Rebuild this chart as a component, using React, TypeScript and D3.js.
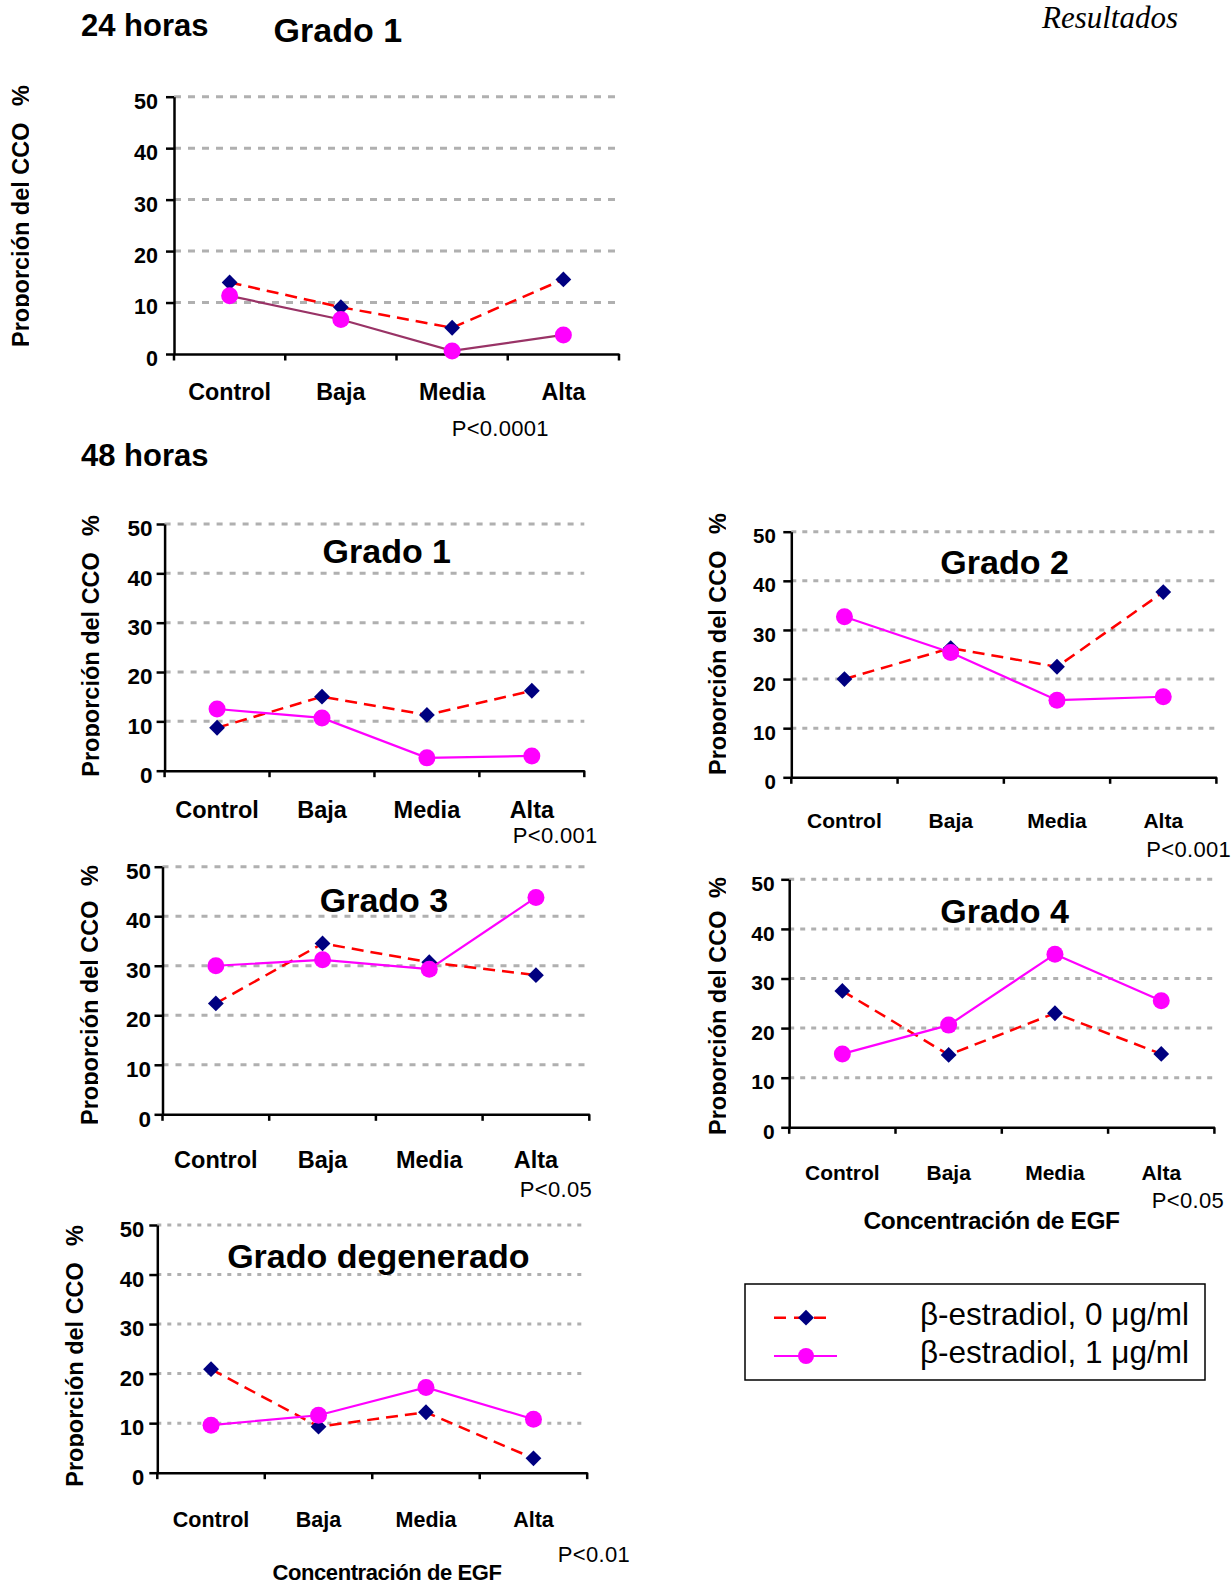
import { useRef, useEffect } from "react";
import * as d3 from "d3";

// categorias de EGF y escala del eje Y
const categories = ["Control", "Baja", "Media", "Alta"];
const yTicks = [0, 10, 20, 30, 40, 50];
const gridTicks = [10, 20, 30, 40, 50];

// serie 0 = β-estradiol 0 µg/ml, serie 1 = β-estradiol 1 µg/ml
const g1_24h_e0 = [13.9, 9.1, 5.1, 14.5];
const g1_24h_e1 = [11.3, 6.7, 0.6, 3.7];
const g1_48h_e0 = [8.7, 15.0, 11.3, 16.2];
const g1_48h_e1 = [12.5, 10.7, 2.6, 3.0];
const g2_48h_e0 = [20.0, 26.3, 22.5, 37.7];
const g2_48h_e1 = [32.7, 25.4, 15.7, 16.4];
const g3_48h_e0 = [22.4, 34.5, 30.7, 28.1];
const g3_48h_e1 = [30.0, 31.2, 29.3, 43.8];
const g4_48h_e0 = [27.5, 14.6, 23.0, 14.8];
const g4_48h_e1 = [14.8, 20.6, 34.9, 25.5];
const gdeg_48h_e0 = [20.9, 9.3, 12.2, 2.9];
const gdeg_48h_e1 = [9.6, 11.6, 17.2, 10.8];

const legendLabels = ["β-estradiol, 0 μg/ml", "β-estradiol, 1 μg/ml"];

const SANS = "'Liberation Sans', Arial, Helvetica, sans-serif";
const SERIF = "'Liberation Serif', 'Times New Roman', serif";

const panels = [
    { id: "a", title: null, s0: g1_24h_e0, s1: g1_24h_e1, p: "P<0.0001", pX: 451.7, pY: 436, pAnchor: "start",
      x0: 174, x1: 619, yTop: 96.7, yBot: 354, tickFs: 21.5, tickPad: 8, catFs: 23.3, catDy: 46, gridDash: "7,7",
      labX: 28.5, labBot: 347, labTop: 85, line1: "#993366" },
    { id: "b", title: "Grado 1", tX: 386.8, tY: 563, s0: g1_48h_e0, s1: g1_48h_e1, p: "P<0.001", pX: 597.5, pY: 843, pAnchor: "end",
      x0: 164.6, x1: 584.3, yTop: 524, yBot: 770.7, tickFs: 22.5, tickPad: 4, catFs: 23.5, catDy: 47, gridDash: "6,7",
      labX: 99.3, labBot: 776.7, labTop: 515, line1: "#ff00ff" },
    { id: "c", title: "Grado 2", tX: 1004.6, tY: 574, s0: g2_48h_e0, s1: g2_48h_e1, p: "P<0.001", pX: 1231, pY: 857, pAnchor: "end",
      x0: 791.3, x1: 1216.4, yTop: 531.7, yBot: 777.3, tickFs: 20.5, tickPad: 7.5, catFs: 21, catDy: 51, gridDash: "5,6",
      labX: 725.6, labBot: 775, labTop: 513, line1: "#ff00ff" },
    { id: "d", title: "Grado 3", tX: 384, tY: 911.7, s0: g3_48h_e0, s1: g3_48h_e1, p: "P<0.05", pX: 592, pY: 1196.7, pAnchor: "end",
      x0: 162.5, x1: 589.3, yTop: 866.7, yBot: 1114.3, tickFs: 22.5, tickPad: 3.5, catFs: 23.5, catDy: 54, gridDash: "6,7",
      labX: 97.5, labBot: 1125, labTop: 865, line1: "#ff00ff" },
    { id: "e", title: "Grado 4", tX: 1004.6, tY: 923.3, s0: g4_48h_e0, s1: g4_48h_e1, p: "P<0.05", pX: 1224, pY: 1208, pAnchor: "end",
      x0: 789.2, x1: 1214.4, yTop: 879.3, yBot: 1127.3, tickFs: 21, tickPad: 6.5, catFs: 21, catDy: 53, gridDash: "5,6",
      labX: 725.6, labBot: 1135, labTop: 877, line1: "#ff00ff", xTitle: { x: 991.6, y: 1229, fs: 24.5 } },
    { id: "f", title: "Grado degenerado", tX: 378.3, tY: 1268.3, s0: gdeg_48h_e0, s1: gdeg_48h_e1, p: "P<0.01", pX: 630, pY: 1561.7, pAnchor: "end",
      x0: 157.3, x1: 587.2, yTop: 1225, yBot: 1472.7, tickFs: 22, tickPad: 5, catFs: 21.5, catDy: 54, gridDash: "4,6",
      labX: 83.3, labBot: 1486.7, labTop: 1225, line1: "#ff00ff", xTitle: { x: 387, y: 1580, fs: 22 } },
];

const diamond = d3.symbol(d3.symbolSquare, 125);

export default function App() {
    const svgRef = useRef<SVGSVGElement>(null);

    useEffect(() => {
        const svg = d3.select(svgRef.current);
        svg.selectAll("*").remove();

        const defs = svg.append("defs");

        // titulos generales
        svg.append("text").attr("x", 81).attr("y", 36).text("24 horas")
            .attr("font-family", SANS).attr("font-weight", "bold").attr("font-size", 31);
        svg.append("text").attr("x", 273.6).attr("y", 42).text("Grado 1")
            .attr("font-family", SANS).attr("font-weight", "bold").attr("font-size", 34);
        svg.append("text").attr("x", 81).attr("y", 466).text("48 horas")
            .attr("font-family", SANS).attr("font-weight", "bold").attr("font-size", 31);
        svg.append("text").attr("x", 1042).attr("y", 28).text("Resultados")
            .attr("font-family", SERIF).attr("font-style", "italic").attr("font-size", 31);

        panels.forEach((pn: any) => drawPanel(svg, defs, pn));

        // leyenda
        const lg = svg.append("g");
        lg.append("rect").attr("x", 745).attr("y", 1284).attr("width", 460).attr("height", 96)
            .attr("fill", "none").attr("stroke", "#000").attr("stroke-width", 1.5);
        lg.append("line").attr("x1", 774).attr("x2", 832).attr("y1", 1317.7).attr("y2", 1317.7)
            .attr("stroke", "#ff0000").attr("stroke-width", 2.5).attr("stroke-dasharray", "12,8");
        lg.append("path").attr("d", diamond()).attr("transform", "translate(806,1317.7) rotate(45)").attr("fill", "#000080");
        lg.append("line").attr("x1", 774).attr("x2", 837).attr("y1", 1356).attr("y2", 1356)
            .attr("stroke", "#ff00ff").attr("stroke-width", 2.2);
        lg.append("circle").attr("cx", 806).attr("cy", 1356).attr("r", 8).attr("fill", "#ff00ff");
        lg.selectAll("text.lab").data(legendLabels).join("text")
            .attr("x", 1189).attr("y", (d, i) => 1325 + i * 38)
            .attr("text-anchor", "end").attr("font-family", SANS).attr("font-size", 31.5)
            .text(d => d);
    }, []);

    const drawPanel = (svg, defs, pn) => {
        const x = d3.scaleBand().domain(categories).range([pn.x0, pn.x1]);
        const y = d3.scaleLinear().domain([0, 50]).range([pn.yBot, pn.yTop]);
        const cx = (c) => x(c) + x.bandwidth() / 2;

        const g = svg.append("g").attr("class", "panel-" + pn.id);

        g.selectAll("line.grid").data(gridTicks).join("line")
            .attr("class", "grid")
            .attr("x1", pn.x0).attr("x2", pn.x1)
            .attr("y1", d => y(d)).attr("y2", d => y(d))
            .attr("stroke", "#b0b0b0").attr("stroke-width", 3)
            .attr("stroke-dasharray", pn.gridDash);

        // eje Y
        const yAxis = g.append("g").attr("transform", `translate(${pn.x0},0)`)
            .call(d3.axisLeft(y).tickValues(yTicks).tickSize(8).tickSizeOuter(0).tickPadding(pn.tickPad).tickFormat(d3.format("d")));
        yAxis.select(".domain").attr("stroke", "#000").attr("stroke-width", 2.5);
        yAxis.selectAll(".tick line").attr("stroke", "#000").attr("stroke-width", 2.5);
        yAxis.selectAll(".tick text").attr("y", 4.5)
            .attr("font-family", SANS).attr("font-weight", "bold").attr("font-size", pn.tickFs).attr("fill", "#000");

        // eje X
        const xAxis = g.append("g").attr("transform", `translate(0,${pn.yBot})`)
            .call(d3.axisBottom(x).tickSize(0).tickSizeOuter(0));
        xAxis.select(".domain").attr("stroke", "#000").attr("stroke-width", 2.5);
        xAxis.selectAll(".tick text").attr("y", pn.catDy).attr("dy", 0)
            .attr("font-family", SANS).attr("font-weight", "bold").attr("font-size", pn.catFs).attr("fill", "#000");
        const bounds = categories.map(c => x(c)).concat([pn.x1]);
        g.selectAll("line.xtick").data(bounds).join("line")
            .attr("class", "xtick")
            .attr("x1", d => d).attr("x2", d => d)
            .attr("y1", pn.yBot).attr("y2", pn.yBot + 6.5)
            .attr("stroke", "#000").attr("stroke-width", 2.5);

        // titulo eje Y (recortado como en el original)
        defs.append("clipPath").attr("id", "clip-" + pn.id)
            .append("rect").attr("x", pn.labX - 40).attr("y", pn.labTop - 5)
            .attr("width", 40.5).attr("height", pn.labBot - pn.labTop + 20);
        const lab = g.append("g").attr("clip-path", `url(#clip-${pn.id})`);
        lab.append("text").attr("transform", `translate(${pn.labX},${pn.labBot}) rotate(-90)`)
            .attr("font-family", SANS).attr("font-weight", "bold").attr("font-size", 23.5)
            .text("Proporción del CCO");
        lab.append("text").attr("transform", `translate(${pn.labX},${pn.labTop}) rotate(-90)`)
            .attr("text-anchor", "end")
            .attr("font-family", SANS).attr("font-weight", "bold").attr("font-size", 23.5)
            .text("%");

        if (pn.title) {
            g.append("text").attr("x", pn.tX).attr("y", pn.tY).attr("text-anchor", "middle")
                .attr("font-family", SANS).attr("font-weight", "bold").attr("font-size", 34)
                .text(pn.title);
        }

        g.append("text").attr("x", pn.pX).attr("y", pn.pY).attr("text-anchor", pn.pAnchor)
            .attr("font-family", SANS).attr("font-size", 22).attr("letter-spacing", 0.3)
            .text(pn.p);

        if (pn.xTitle) {
            g.append("text").attr("x", pn.xTitle.x).attr("y", pn.xTitle.y).attr("text-anchor", "middle")
                .attr("font-family", SANS).attr("font-weight", "bold").attr("font-size", pn.xTitle.fs)
                .attr("letter-spacing", -0.4)
                .text("Concentración de EGF");
        }

        const line = d3.line<number>().x((d, i) => cx(categories[i])).y(d => y(d));

        g.append("path").attr("d", line(pn.s0)).attr("fill", "none")
            .attr("stroke", "#ff0000").attr("stroke-width", 2.5).attr("stroke-dasharray", "12,7");
        g.append("path").attr("d", line(pn.s1)).attr("fill", "none")
            .attr("stroke", pn.line1).attr("stroke-width", 2.2);

        g.selectAll("path.dia").data(pn.s0).join("path")
            .attr("class", "dia")
            .attr("d", diamond())
            .attr("transform", (d, i) => `translate(${cx(categories[i])},${y(d)}) rotate(45)`)
            .attr("fill", "#000080");
        g.selectAll("circle.dot").data(pn.s1).join("circle")
            .attr("class", "dot")
            .attr("cx", (d, i) => cx(categories[i])).attr("cy", d => y(d))
            .attr("r", 8.5).attr("fill", "#ff00ff");
    };

    return <svg ref={svgRef} width={1232} height={1585}
        style={{ position: "fixed", left: 0, top: 0, background: "#fff" }}></svg>;
}
